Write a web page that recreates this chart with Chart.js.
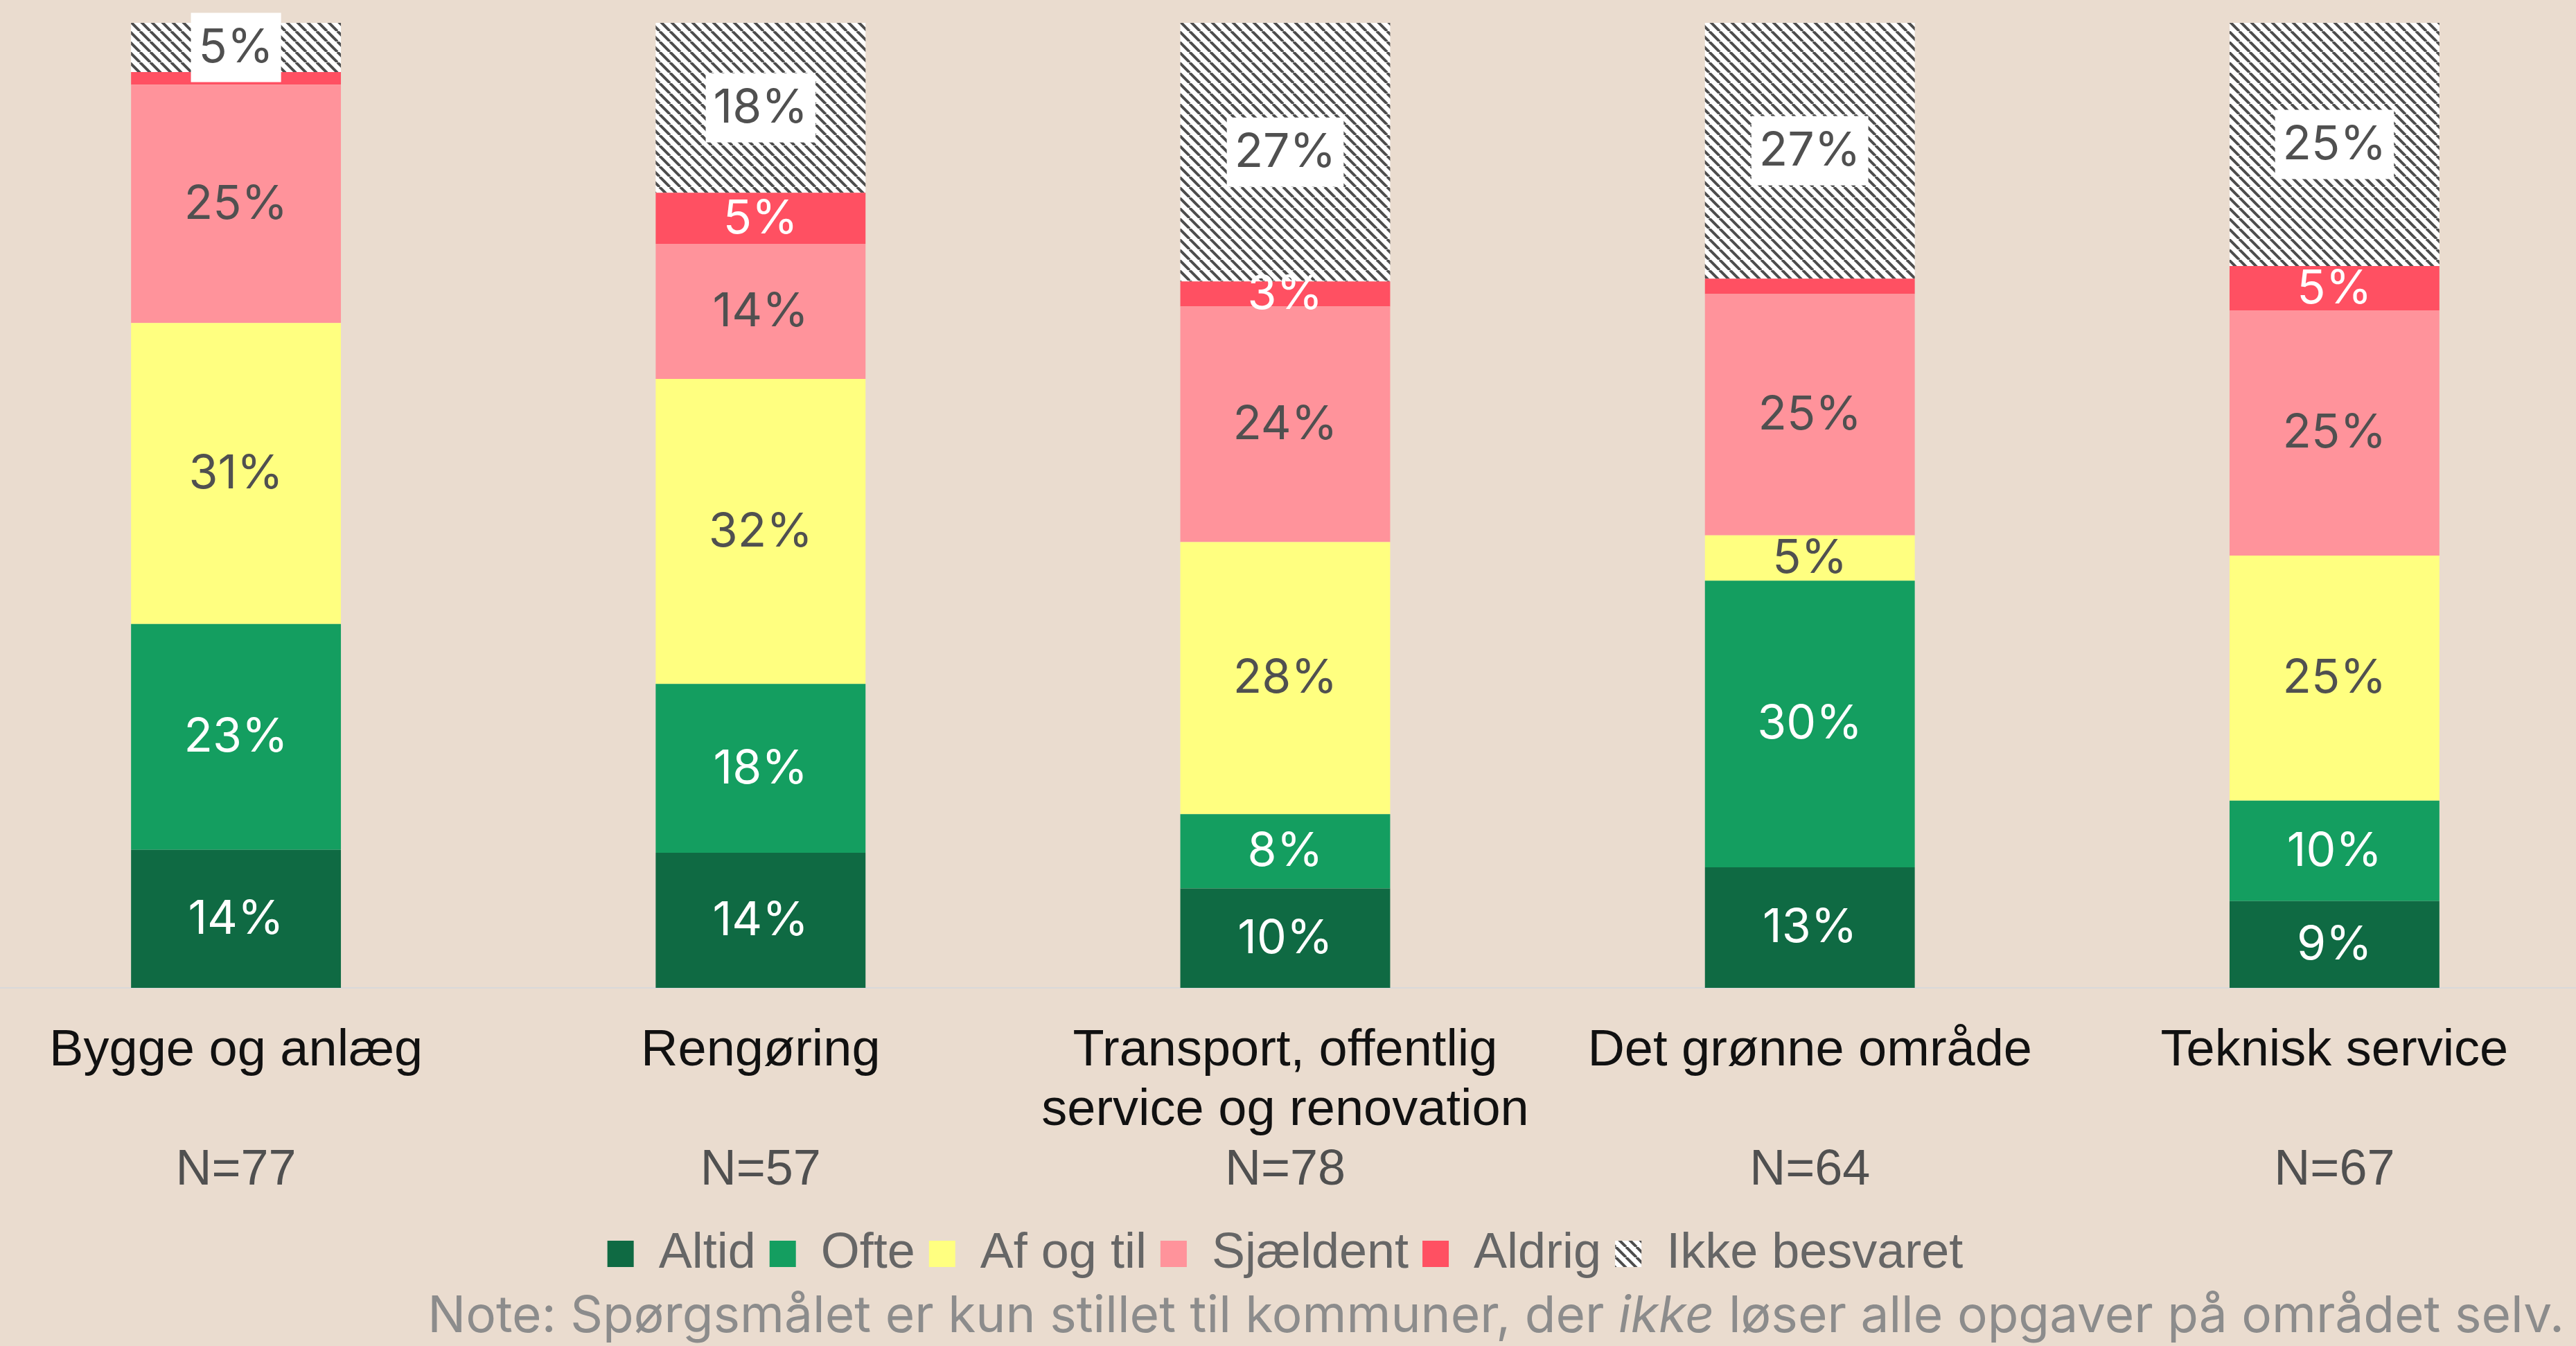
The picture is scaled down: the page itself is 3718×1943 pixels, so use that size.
<!DOCTYPE html>
<html lang="da">
<head>
<meta charset="utf-8">
<title>Hvor ofte løser kommunen opgaverne selv</title>
<script src="https://cdn.jsdelivr.net/npm/chart.js@4.4.1/dist/chart.umd.min.js"></script>
<style>
  html, body { margin: 0; padding: 0; background: #eadccf; overflow: hidden; }
  #wrap { position: relative; width: 3718px; height: 1943px; overflow: hidden; }
  #graf { position: absolute; left: -38px; top: 0; }
</style>
</head>
<body>
<div id="wrap">
  <canvas id="graf" width="3786" height="1943"></canvas>
</div>
<script>
// ===== DATA =====
const kategorier = [
    "Bygge og anlæg",
    "Rengøring",
    ["Transport, offentlig", "service og renovation"],
    "Det grønne område",
    "Teknisk service"
];
const antal = ["N=77", "N=57", "N=78", "N=64", "N=67"];

const altid      = [14.3, 14.0, 10.3, 12.5, 9.0];
const ofte       = [23.4, 17.5, 7.7, 29.7, 10.4];
const afOgTil    = [31.2, 31.6, 28.2, 4.7, 25.4];
const sjaeldent  = [24.7, 14.0, 24.4, 25.0, 25.4];
const aldrig     = [1.3, 5.3, 2.6, 1.6, 4.6];
const ikkeSvaret = [5.1, 17.6, 26.8, 26.5, 25.2];

const noteTekst = ["Note: Spørgsmålet er kun stillet til kommuner, der ", "ikke", " løser alle opgaver på området selv."];

// ===== SKRAVERING =====
function lavSkravering() {
    const s = 15;
    const c = document.createElement("canvas");
    c.width = s; c.height = s;
    const g = c.getContext("2d");
    g.fillStyle = "#ffffff";
    g.fillRect(0, 0, s, s);
    g.strokeStyle = "#4d4d4d";
    g.lineWidth = 4;
    for (const x0 of [-s, 0, s]) {
        g.beginPath();
        g.moveTo(x0, 0);
        g.lineTo(x0 + s, s);
        g.stroke();
    }
    return g.createPattern(c, "repeat");
}

const ctx = document.getElementById("graf").getContext("2d");
const skravering = lavSkravering();

const tekstFarver = ["#ffffff", "#ffffff", "#505050", "#505050", "#ffffff", "#505050"];

// ===== PROCENT-ETIKETTER =====
const procentEtiketter = {
    id: "procentEtiketter",
    afterDatasetsDraw(chart) {
        const c = chart.ctx;
        c.save();
        c.font = "400 68px Inter, 'Noto Sans', sans-serif";
        c.textAlign = "center";
        c.textBaseline = "middle";
        chart.data.datasets.forEach((ds, di) => {
            const meta = chart.getDatasetMeta(di);
            meta.data.forEach((bar, i) => {
                const v = ds.data[i];
                if (v < 2) return;
                const txt = Math.round(v) + "%";
                const cy = (bar.y + bar.base) / 2;
                if (di === 5) {
                    const w = c.measureText(txt).width + 22;
                    c.fillStyle = "#ffffff";
                    c.fillRect(bar.x - w / 2, cy - 50, w, 100);
                }
                c.fillStyle = tekstFarver[di];
                c.fillText(txt, bar.x, cy + 1);
            });
        });
        c.restore();
    }
};

// ===== NOTE =====
const note = {
    id: "note",
    afterDraw(chart) {
        const c = chart.ctx;
        c.save();
        c.fillStyle = "#8c8c8c";
        c.textBaseline = "alphabetic";
        c.textAlign = "left";
        const fonte = [
            "400 73px Inter, 'Noto Sans', sans-serif",
            "italic 400 73px Inter, 'Noto Sans', sans-serif",
            "400 73px Inter, 'Noto Sans', sans-serif"
        ];
        let total = 0;
        const bredder = noteTekst.map((t, i) => {
            c.font = fonte[i];
            const w = c.measureText(t).width;
            total += w;
            return w;
        });
        let x = chart.width - 47 - total;
        noteTekst.forEach((t, i) => {
            c.font = fonte[i];
            c.fillText(t, x, 1923);
            x += bredder[i];
        });
        c.restore();
    }
};

// ===== GRAF =====
window.grafico = new Chart(ctx, {
    type: "bar",
    data: {
        labels: kategorier,
        datasets: [
            { label: "Altid", data: altid, backgroundColor: "#0f6a43" },
            { label: "Ofte", data: ofte, backgroundColor: "#149e60" },
            { label: "Af og til", data: afOgTil, backgroundColor: "#ffff80" },
            { label: "Sjældent", data: sjaeldent, backgroundColor: "#ff939b" },
            { label: "Aldrig", data: aldrig, backgroundColor: "#ff5062" },
            { label: "Ikke besvaret", data: ikkeSvaret, backgroundColor: skravering }
        ]
    },
    options: {
        responsive: false,
        devicePixelRatio: 1,
        animation: false,
        layout: { padding: { top: 33, bottom: 87, left: 0, right: 0 } },
        datasets: {
            bar: { categoryPercentage: 1, barPercentage: 0.4, borderWidth: 0 }
        },
        plugins: {
            legend: {
                position: "bottom",
                labels: {
                    color: "#666666",
                    font: { family: "'Liberation Sans', Arial, sans-serif", size: 72 },
                    boxWidth: 38,
                    boxHeight: 38,
                    padding: 20
                }
            },
            tooltip: { enabled: false }
        },
        scales: {
            x: {
                stacked: true,
                grid: { display: false, drawTicks: false },
                border: { display: true, color: "#d9d9d9", width: 2 },
                ticks: {
                    color: "#111111",
                    font: { family: "'Liberation Sans', Arial, sans-serif", size: 74, lineHeight: 1.162 },
                    padding: 49,
                    maxRotation: 0,
                    autoSkip: false
                },
                afterFit(scale) { scale.height = 216; }
            },
            x2: {
                type: "category",
                labels: antal,
                position: "bottom",
                offset: true,
                grid: { display: false, drawTicks: false },
                border: { display: false },
                ticks: {
                    color: "#505050",
                    font: { family: "'Liberation Sans', Arial, sans-serif", size: 72, lineHeight: 1.1 },
                    padding: 9,
                    maxRotation: 0,
                    autoSkip: false
                },
                afterFit(scale) { scale.height = 112; }
            },
            y: {
                stacked: true,
                display: false,
                min: 0,
                max: 100
            }
        }
    },
    plugins: [procentEtiketter, note]
});
</script>
</body>
</html>
